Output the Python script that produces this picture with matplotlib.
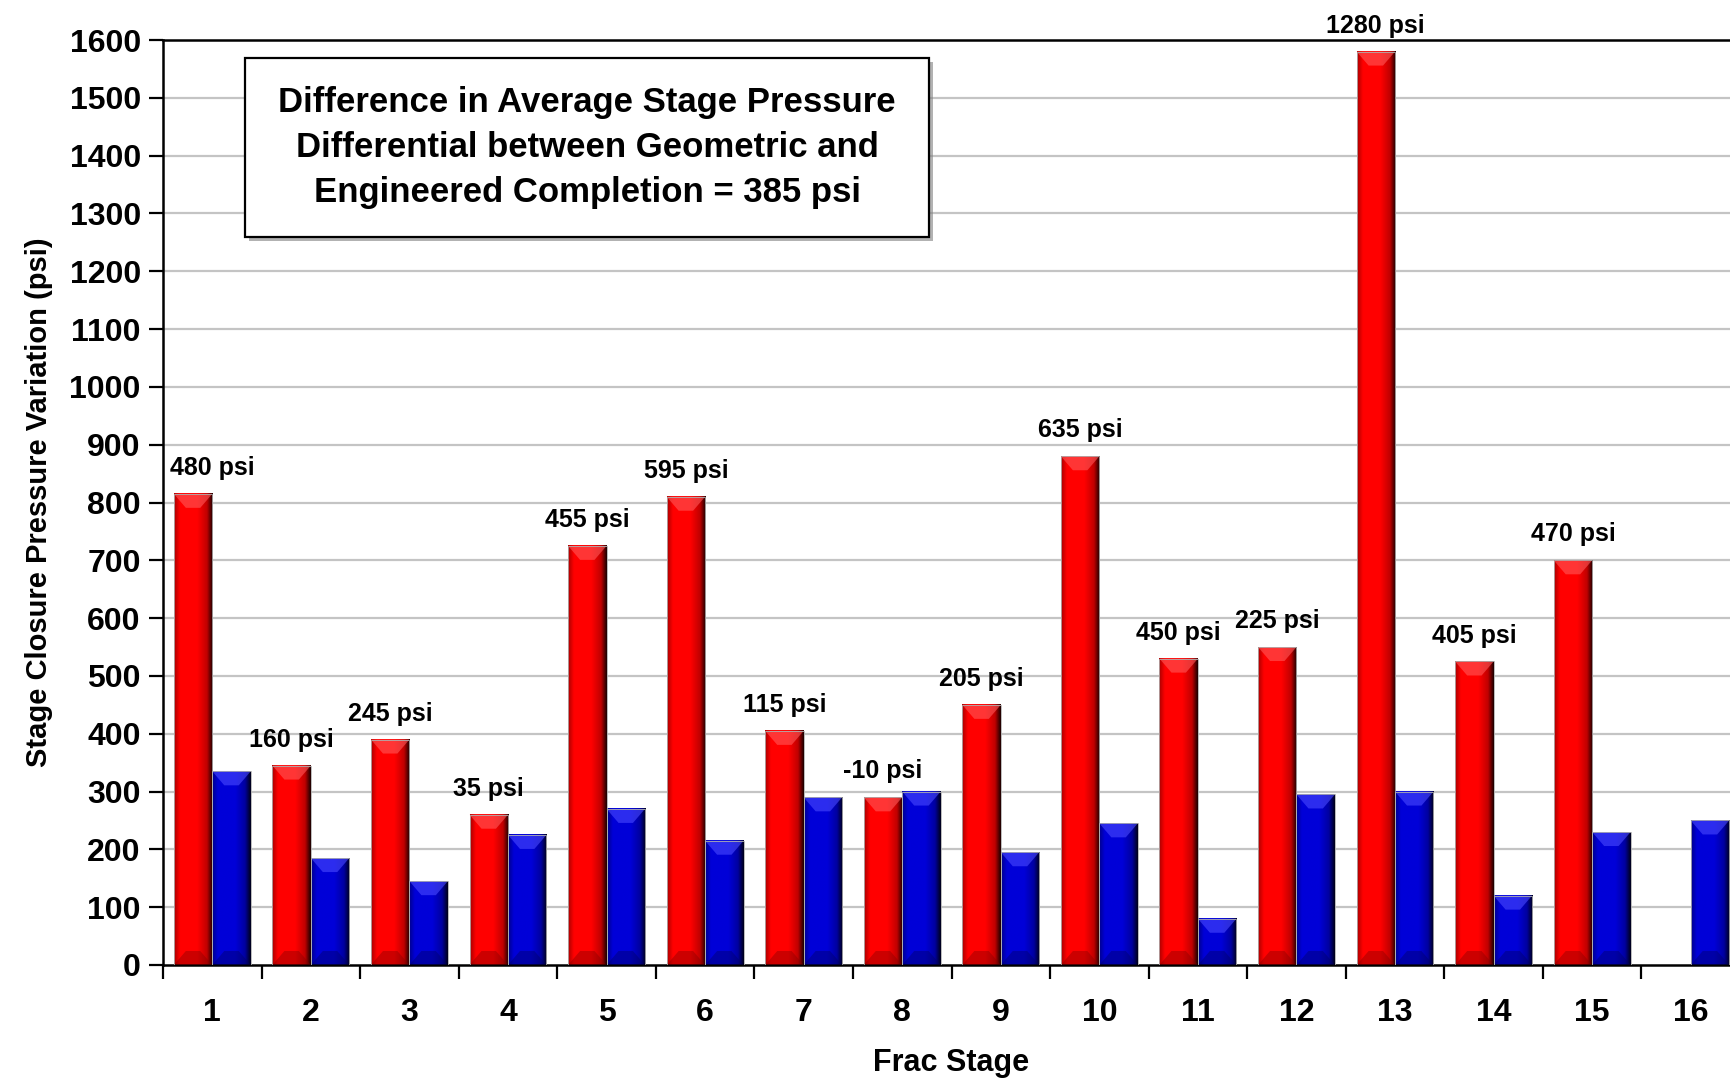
import matplotlib.pyplot as plt
import numpy as np
from matplotlib.colors import LinearSegmentedColormap
from matplotlib.patches import Rectangle, Polygon

plt.rcParams['font.family'] = ['Liberation Sans Narrow', 'Liberation Sans', 'DejaVu Sans']
plt.rcParams['font.weight'] = 'bold'

# data
stages = list(range(1, 17))
geometric = [815, 345, 390, 260, 725, 810, 405, 290, 450, 880, 530, 550, 1580, 525, 700, None]
engineered = [335, 185, 145, 225, 270, 215, 290, 300, 195, 245, 80, 295, 300, 120, 230, 250]
diff_labels = ['480 psi', '160 psi', '245 psi', '35 psi', '455 psi', '595 psi', '115 psi', '-10 psi',
               '205 psi', '635 psi', '450 psi', '225 psi', '1280 psi', '405 psi', '470 psi', None]
box_text = ('Difference in Average Stage Pressure\n'
            'Differential between Geometric and\n'
            'Engineered Completion = 385 psi')

W, H = 1730, 1081
fig = plt.figure(figsize=(W / 100, H / 100), dpi=100)
ax = fig.add_axes([163 / W, (H - 965) / H, (1740 - 163) / W, 925 / H])
ax.set_xlim(0.5, 16.5)
ax.set_ylim(0, 1600)

bw = 0.39
red_cmap = LinearSegmentedColormap.from_list('r', [(0, '#a80000'), (0.15, '#ff0000'), (0.6, '#ff0000'),
                                                   (0.85, '#c00000'), (1.0, '#1a0000')])
blue_cmap = LinearSegmentedColormap.from_list('b', [(0, '#00008a'), (0.15, '#0000d8'), (0.6, '#0000d8'),
                                                    (0.85, '#0000a0'), (1.0, '#000018')])
grad = np.linspace(0, 1, 200).reshape(1, -1)

# bevel size in data units (about 14 px high, 12 px wide)
ax_w_px = (1740 - 163)
by = 14 * 1600 / 925
bx = 12 * 16 / ax_w_px


def fancy_bar(x0, h, cmap, light, dark):
    x1 = x0 + bw
    ax.imshow(grad, cmap=cmap, extent=(x0, x1, 0, h), aspect='auto', zorder=2, interpolation='bilinear')
    b = min(by, h / 3)
    ax.add_patch(Polygon([(x0, h), (x1, h), (x1 - bx, h - b), (x0 + bx, h - b)],
                         closed=True, facecolor=light, edgecolor='none', alpha=0.6, zorder=3))
    ax.add_patch(Polygon([(x0, 0), (x1, 0), (x1 - bx, b), (x0 + bx, b)],
                         closed=True, facecolor=dark, edgecolor='none', alpha=0.4, zorder=3))
    ax.add_patch(Rectangle((x0, 0), bw, h, facecolor='none', edgecolor='#b0b0b0', lw=0.6, zorder=3))


for i, s in enumerate(stages):
    if geometric[i] is not None:
        fancy_bar(s - bw, geometric[i], red_cmap, '#ff5a5a', '#800000')
    if engineered[i] is not None:
        fancy_bar(s, engineered[i], blue_cmap, '#4a4aff', '#000060')
    if diff_labels[i] is not None:
        lx = s - bw / 2 + (0.2 if i == 0 else 0)
        ax.annotate(diff_labels[i], (lx, geometric[i]), xytext=(0, 10), textcoords='offset points',
                    ha='center', va='bottom', fontsize=18, fontweight='bold', zorder=5)

# grid / axes styling
for y in range(100, 1600, 100):
    ax.axhline(y, color='#c4c4c4', lw=1.6, zorder=1)
ax.spines['right'].set_visible(False)
for sp in ['left', 'bottom', 'top']:
    ax.spines[sp].set_linewidth(1.8)
    ax.spines[sp].set_color('black')

ax.set_yticks(range(0, 1601, 100))
ax.set_xticks(stages)
ax.set_xticks(np.arange(0.5, 16.6, 1), minor=True)
ax.tick_params(axis='y', direction='out', length=10, width=1.6, labelsize=23, pad=6)
ax.tick_params(axis='x', which='major', length=0, labelsize=23, pad=24)
ax.tick_params(axis='x', which='minor', direction='out', length=10, width=1.6)
for lab in ax.get_xticklabels() + ax.get_yticklabels():
    lab.set_fontweight('bold')

ax.set_ylabel('Stage Closure Pressure Variation (psi)', fontsize=21, fontweight='bold', labelpad=12)
ax.set_xlabel('Frac Stage', fontsize=22, fontweight='bold', labelpad=14)

# annotation box with shadow
bx0, bx1 = (245 - 163) / ax_w_px, (929 - 163) / ax_w_px
by0, by1 = (965 - 237) / 925, (965 - 58) / 925
sx, sy = 4 / ax_w_px, 4 / 925
ax.add_patch(Rectangle((bx0 + sx, by0 - sy), bx1 - bx0, by1 - by0, transform=ax.transAxes,
                       facecolor='#808080', edgecolor='none', alpha=0.6, zorder=6))
ax.add_patch(Rectangle((bx0, by0), bx1 - bx0, by1 - by0, transform=ax.transAxes,
                       facecolor='white', edgecolor='black', lw=1.6, zorder=7))
ax.text((bx0 + bx1) / 2, (by0 + by1) / 2, box_text, transform=ax.transAxes, ha='center', va='center',
        fontsize=25, fontweight='bold', linespacing=1.45, zorder=8)

fig.savefig('out.png', dpi=100)
